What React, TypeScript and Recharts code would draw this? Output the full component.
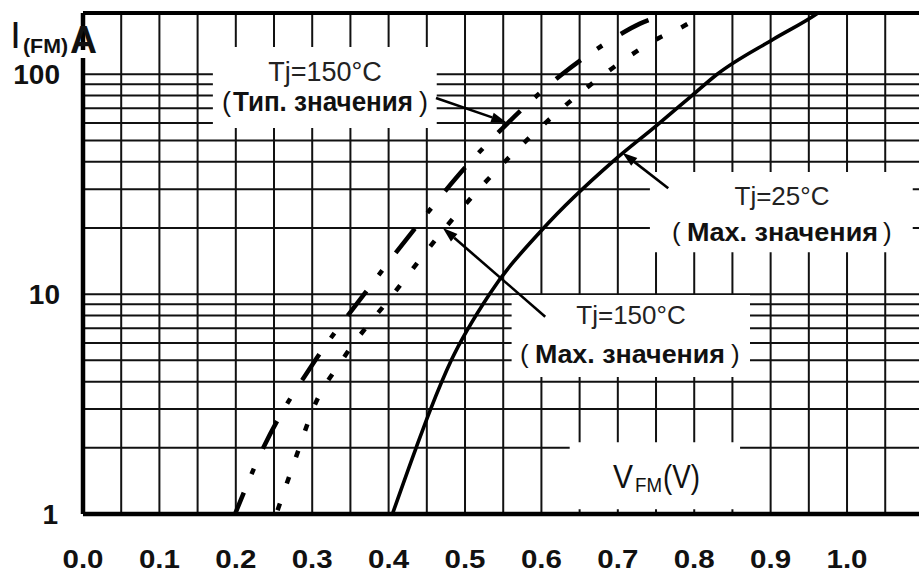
import React from "react";
import {
  LineChart,
  Line,
  XAxis,
  YAxis,
  CartesianGrid,
  ReferenceArea,
  ReferenceLine,
} from "recharts";

// forward voltage (V) vs forward current (A)
const vf25Max = [0.405, 0.436, 0.455, 0.482, 0.532, 0.603, 0.693, 0.751, 0.797, 0.83, 0.903, 0.961, 0.971];
const if25Max = [1, 2, 3, 5, 10, 20, 40, 58.6, 80, 100, 144, 189, 200];

const vf150Typ = [0.199, 0.236, 0.304, 0.368, 0.435, 0.507, 0.556, 0.627, 0.695, 0.729, 0.758];
const if150Typ = [1, 2, 5, 10, 20, 40, 60, 100, 146, 170, 185];

const vf150Max = [0.253, 0.283, 0.301, 0.339, 0.406, 0.474, 0.552, 0.605, 0.692, 0.723, 0.755, 0.781, 0.792, 0.812];
const if150Max = [1, 2, 3, 5, 10, 20, 40, 60, 106, 126, 147, 162, 170, 190];

const vTicks = [0, 0.1, 0.2, 0.3, 0.4, 0.5, 0.6, 0.7, 0.8, 0.9, 1.0];
const iTicks = [1, 10, 100];
const gridV = [0.05, 0.1, 0.15, 0.2, 0.25, 0.3, 0.35, 0.4, 0.45, 0.5, 0.55, 0.6, 0.65, 0.7, 0.75, 0.8, 0.85, 0.9, 0.95, 1.0, 1.05];
const gridI = [2, 3, 4, 5, 6, 7, 8, 9, 10, 20, 30, 40, 50, 60, 70, 80, 90, 100];

const toPoints = (vs: number[], is: number[]) => vs.map((v, k) => ({ v, i: is[k] }));

const FONT = "'Liberation Sans', Arial, sans-serif";
const W = 919;
const H = 571;

const XTick = (p: any) => (
  <text x={p.x} y={568} textAnchor="middle" fontFamily={FONT} fontWeight="bold" fontSize={25} fill="#111"
    textLength={41} lengthAdjust="spacingAndGlyphs">
    {Number(p.payload.value).toFixed(1)}
  </text>
);

const YTick = (p: any) => (
  <text x={p.payload.value === 1 ? 58 : 60} y={p.y + 10} textAnchor="end" fontFamily={FONT} fontWeight="bold"
    fontSize={28} fill="#111">
    {p.payload.value}
  </text>
);

// arrow: segment[0] = tail, segment[1] = tip
const Arrow = (p: any) => {
  const { x1, y1, x2, y2 } = p;
  const a = Math.atan2(y2 - y1, x2 - x1);
  const L = 15;
  const hw = 5;
  const bx = x2 - L * Math.cos(a);
  const by = y2 - L * Math.sin(a);
  const pts = `${x2},${y2} ${bx - hw * Math.sin(a)},${by + hw * Math.cos(a)} ${bx + hw * Math.sin(a)},${by - hw * Math.cos(a)}`;
  return (
    <g>
      <line x1={x1} y1={y1} x2={bx} y2={by} stroke="#000" strokeWidth={2.6} />
      <polygon points={pts} fill="#000" />
    </g>
  );
};

const Labels = () => (
  <svg width={W} height={H} style={{ position: "absolute", left: 0, top: 0, pointerEvents: "none" }}>
    <g fontFamily={FONT} fill="#111">
      <rect x={79} y={50} width={8} height={8} fill="#fff" />
      <text x={12} y={48} fontSize={36} fontWeight="bold" textLength={7} lengthAdjust="spacingAndGlyphs">I</text>
      <text x={23} y={53} fontSize={21} fontWeight="bold" textLength={45} lengthAdjust="spacingAndGlyphs">(FM)</text>
      <text x={70} y={53} fontSize={39} fontWeight="bold" textLength={27} lengthAdjust="spacingAndGlyphs">A</text>

      <text x={325} y={81} fontSize={27} textAnchor="middle" fill="#222">Tj=150°C</text>
      <text x={222} y={111} fontSize={27}>(</text>
      <text x={233} y={111} fontSize={27} fontWeight="bold" textLength={180} lengthAdjust="spacingAndGlyphs">Тип. значения</text>
      <text x={419} y={111} fontSize={27}>)</text>

      <text x={782} y={205} fontSize={26} textAnchor="middle" fill="#222">Tj=25°C</text>
      <text x={672} y={241} fontSize={26}>(</text>
      <text x={687} y={241} fontSize={26} fontWeight="bold" textLength={191} lengthAdjust="spacingAndGlyphs">Max. значения</text>
      <text x={883} y={241} fontSize={26}>)</text>

      <text x={631} y={324} fontSize={26} textAnchor="middle" fill="#222">Tj=150°C</text>
      <text x={520} y={363} fontSize={26}>(</text>
      <text x={535} y={363} fontSize={26} fontWeight="bold" textLength={190} lengthAdjust="spacingAndGlyphs">Max. значения</text>
      <text x={731} y={363} fontSize={26}>)</text>

      <text x={613} y={488} fontSize={34} textLength={20} lengthAdjust="spacingAndGlyphs">V</text>
      <text x={635} y={492} fontSize={21} textLength={27} lengthAdjust="spacingAndGlyphs">FM</text>
      <text x={663} y={488} fontSize={34} textLength={37} lengthAdjust="spacingAndGlyphs">(V)</text>
    </g>
  </svg>
);

export default function App() {
  return (
    <div style={{ position: "absolute", left: 0, top: 0, width: W, height: H, background: "#fff" }}>
      <LineChart width={W} height={H} margin={{ top: 13, right: 0, bottom: 0, left: 0 }}>
        <CartesianGrid horizontalValues={gridI} verticalValues={gridV} stroke="#111" strokeWidth={2} />
        <XAxis type="number" dataKey="v" domain={[0, 1.0942]} allowDataOverflow ticks={vTicks} height={57}
          tickLine={false} axisLine={{ stroke: "#000", strokeWidth: 4.5 }} tick={<XTick />} interval={0} />
        <YAxis type="number" dataKey="i" scale="log" domain={[1, 190]} allowDataOverflow ticks={iTicks} width={83}
          tickLine={false} axisLine={{ stroke: "#000", strokeWidth: 4.5 }} tick={<YTick />} interval={0} />

        {/* white label boxes that break the grid */}
        <ReferenceArea x1={0.17} x2={0.463} y1={57} y2={133} fill="#fff" fillOpacity={1} stroke="none" />
        <ReferenceArea x1={0.742} x2={1.086} y1={15.5} y2={35.9} fill="#fff" fillOpacity={1} stroke="none" />
        <ReferenceArea x1={0.561} x2={0.873} y1={4.2} y2={9.9} fill="#fff" fillOpacity={1} stroke="none" />
        <ReferenceArea x1={0.637} x2={0.86} y1={1.05} y2={2.12} fill="#fff" fillOpacity={1} stroke="none" />

        <ReferenceLine y={190} stroke="#000" strokeWidth={4} />

        <Line data={toPoints(vf25Max, if25Max)} dataKey="i" type="monotone" stroke="#000" strokeWidth={3.6}
          dot={false} activeDot={false} isAnimationActive={false} />
        <Line data={toPoints(vf150Typ, if150Typ)} dataKey="i" type="monotone" stroke="#000" strokeWidth={4.5}
          strokeDasharray="31 20 6 22" strokeDashoffset={8} dot={false} activeDot={false} isAnimationActive={false} />
        <Line data={toPoints(vf150Max, if150Max)} dataKey="i" type="monotone" stroke="#000" strokeWidth={4.5}
          strokeDasharray="7 21" strokeDashoffset={-4} dot={false} activeDot={false} isAnimationActive={false} />

        <ReferenceLine segment={[{ x: 0.462, y: 78 }, { x: 0.554, y: 60.5 }]} shape={<Arrow />} />
        <ReferenceLine segment={[{ x: 0.766, y: 30.3 }, { x: 0.706, y: 44 }]} shape={<Arrow />} />
        <ReferenceLine segment={[{ x: 0.605, y: 7.9 }, { x: 0.471, y: 20 }]} shape={<Arrow />} />
      </LineChart>
      <Labels />
    </div>
  );
}
